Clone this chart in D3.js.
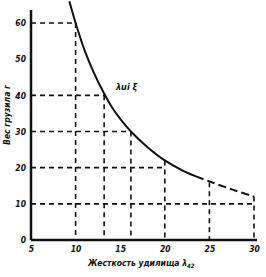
<!DOCTYPE html>
<html>
<head>
<meta charset="utf-8">
<script src="https://cdn.jsdelivr.net/npm/d3@7"></script>
<style>
  body { margin: 0; background: #fff; }
  text { font-family: "DejaVu Sans Condensed", "DejaVu Sans", sans-serif; font-weight: bold; font-style: italic; fill: #111; }
</style>
</head>
<body>
<div id="chart"></div>
<script>
const xTicks = [5, 10, 15, 20, 25, 30];
const yTicks = [0, 10, 20, 30, 40, 50, 60];

// curve (stiffness -> sinker weight)
const curveX = [9.3, 10, 11, 12, 13.2, 14, 15, 16.2, 18, 20, 22, 23.5];
const curveY = [66, 60, 52.5, 46.5, 40.5, 37, 33.5, 30, 25.8, 22, 19.2, 17.6];
// dashed continuation
const tailX = [23.5, 25, 27.5, 30];
const tailY = [17.6, 16.2, 14, 12];

// dashed guide lines
const vGuideX = [10, 13.2, 16.2, 20, 25, 30];
const vGuideTop = [60, 40, 30, 22, 16, 12];
const hGuideY = [60, 40, 30, 20, 10];
const hGuideEnd = [10, 13.2, 16.2, 20, 30];

const width = 266, height = 277;

const x = d3.scaleLinear().domain([5, 30]).range([31, 254]);
const y = d3.scaleLinear().domain([0, 60]).range([240, 23]);

const svg = d3.select("#chart")
    .append("svg")
    .attr("width", width)
    .attr("height", height);

// guides
const dash = "5,4";
svg.selectAll("line.vg")
    .data(vGuideX)
    .enter()
    .append("line")
    .attr("x1", d => x(d)).attr("x2", d => x(d))
    .attr("y1", (d, i) => y(vGuideTop[i])).attr("y2", y(0))
    .attr("stroke", "#111").attr("stroke-width", 1.6)
    .attr("stroke-dasharray", dash);

svg.selectAll("line.hg")
    .data(hGuideY)
    .enter()
    .append("line")
    .attr("x1", x(5)).attr("x2", (d, i) => x(hGuideEnd[i]))
    .attr("y1", d => y(d)).attr("y2", d => y(d))
    .attr("stroke", "#111").attr("stroke-width", 1.6)
    .attr("stroke-dasharray", dash);

// curve
const line = d3.line()
    .x(d => x(d[0]))
    .y(d => y(d[1]))
    .curve(d3.curveCatmullRom);

svg.append("path")
    .datum(curveX.map((v, i) => [v, curveY[i]]))
    .attr("d", line)
    .attr("fill", "none")
    .attr("stroke", "#111")
    .attr("stroke-width", 2);

svg.append("path")
    .datum(tailX.map((v, i) => [v, tailY[i]]))
    .attr("d", line)
    .attr("fill", "none")
    .attr("stroke", "#111")
    .attr("stroke-width", 2)
    .attr("stroke-dasharray", "8,4");

// axes
const xAxis = svg.append("g")
    .attr("transform", `translate(0,${y(0)})`)
    .call(d3.axisBottom(x).tickValues(xTicks).tickSize(0).tickPadding(6));
const yAxis = svg.append("g")
    .attr("transform", `translate(${x(5)},0)`)
    .call(d3.axisLeft(y).tickValues(yTicks).tickSize(0).tickPadding(5));

[xAxis, yAxis].forEach(g => {
    g.select(".domain").remove();
    g.selectAll("text").style("font-size", "8.5px");
});

svg.append("line")
    .attr("x1", x(5)).attr("x2", x(30) + 3)
    .attr("y1", y(0)).attr("y2", y(0))
    .attr("stroke", "#111").attr("stroke-width", 2.5);
svg.append("line")
    .attr("x1", x(5)).attr("x2", x(5))
    .attr("y1", y(0)).attr("y2", 10)
    .attr("stroke", "#111").attr("stroke-width", 2.5);

// titles
svg.append("text")
    .attr("x", 88).attr("y", 266)
    .style("font-size", "8.5px")
    .text("Жесткость удилища λ")
    .append("tspan")
    .attr("dy", 2)
    .style("font-size", "6px")
    .text("42");

svg.append("text")
    .attr("transform", "translate(10,115) rotate(-90)")
    .attr("text-anchor", "middle")
    .style("font-size", "8.5px")
    .text("Вес грузила г");

svg.append("text")
    .attr("x", 116).attr("y", 90)
    .style("font-size", "9px")
    .text("λui ξ");
</script>
</body>
</html>
